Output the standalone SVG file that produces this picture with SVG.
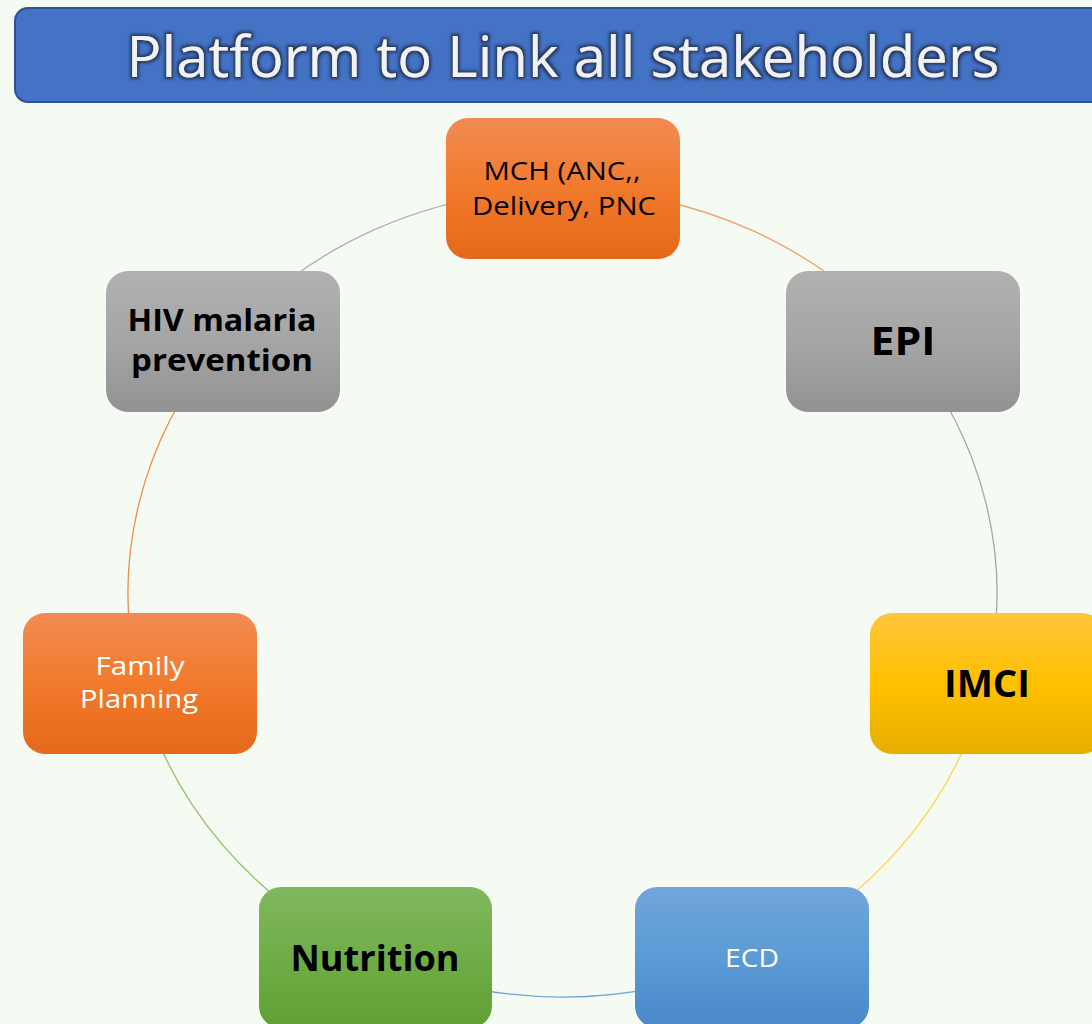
<svg xmlns="http://www.w3.org/2000/svg" width="1092" height="1024" viewBox="0 0 1092 1024">
<defs>
<linearGradient id="gOrange" x1="0" y1="0" x2="0" y2="1"><stop offset="0" stop-color="#F18B53"/><stop offset="0.5" stop-color="#F27A2C"/><stop offset="1" stop-color="#E4691A"/></linearGradient>
<linearGradient id="gGray" x1="0" y1="0" x2="0" y2="1"><stop offset="0" stop-color="#B1B1B1"/><stop offset="0.5" stop-color="#A5A5A5"/><stop offset="1" stop-color="#929292"/></linearGradient>
<linearGradient id="gGold" x1="0" y1="0" x2="0" y2="1"><stop offset="0" stop-color="#FFC53D"/><stop offset="0.5" stop-color="#FFC000"/><stop offset="1" stop-color="#E6AE00"/></linearGradient>
<linearGradient id="gBlue" x1="0" y1="0" x2="0" y2="1"><stop offset="0" stop-color="#71A5DC"/><stop offset="0.5" stop-color="#5B9BD5"/><stop offset="1" stop-color="#4A88CA"/></linearGradient>
<linearGradient id="gGreen" x1="0" y1="0" x2="0" y2="1"><stop offset="0" stop-color="#80B85E"/><stop offset="0.5" stop-color="#70AD47"/><stop offset="1" stop-color="#5FA032"/></linearGradient>
<filter id="tshadow" x="-5%" y="-30%" width="110%" height="160%">
<feMorphology in="SourceAlpha" operator="dilate" radius="1.5" result="d"/>
<feGaussianBlur in="d" stdDeviation="1.5" result="b"/>
<feFlood flood-color="#1F2F4F" flood-opacity="0.85"/>
<feComposite in2="b" operator="in" result="s"/>
<feMerge><feMergeNode in="s"/><feMergeNode in="SourceGraphic"/></feMerge>
</filter>
</defs>
<style>
.box{stroke:none}
.lbl{font-family:"Open Sans","Noto Sans","Liberation Sans",sans-serif;text-anchor:middle}
.dark{fill:#000}
.light{fill:#FFFFFF}
.b{font-weight:bold}
.arc{fill:none;stroke-width:1.3}
</style>
<rect x="0" y="0" width="1092" height="1024" fill="#F5FAF3"/>
<g id="title">
<rect x="15" y="8" width="1100" height="94" rx="13" ry="13" fill="#4472C4" stroke="#2F528F" stroke-width="2"/>
<text x="563" y="77" class="lbl" font-size="56" fill="#F2F2F2" filter="url(#tshadow)" textLength="873" lengthAdjust="spacingAndGlyphs">Platform to Link all stakeholders</text>
</g>
<g id="connectors">
<path class="arc" stroke="#F4A070" d="M562.5 190 A434.5 403.5 0 0 1 902.2 341.9"/>
<path class="arc" stroke="#A6A6A6" d="M902.2 341.9 A434.5 403.5 0 0 1 986.1 683.3"/>
<path class="arc" stroke="#FFD24D" d="M986.1 683.3 A434.5 403.5 0 0 1 751 957.1"/>
<path class="arc" stroke="#6FA3D8" d="M751 957.1 A434.5 403.5 0 0 1 374 957.1"/>
<path class="arc" stroke="#8DC26C" d="M374 957.1 A434.5 403.5 0 0 1 138.9 683.3"/>
<path class="arc" stroke="#F08A4B" d="M138.9 683.3 A434.5 403.5 0 0 1 222.8 341.9"/>
<path class="arc" stroke="#A9B2B2" d="M222.8 341.9 A434.5 403.5 0 0 1 562.5 190"/>
</g>
<g id="node-mch">
<rect class="box" x="446" y="118" width="234" height="141" rx="22" fill="url(#gOrange)"/>
<text class="lbl dark" x="562" y="180" font-size="25" textLength="157" lengthAdjust="spacingAndGlyphs">MCH (ANC,,</text>
<text class="lbl dark" x="564" y="215" font-size="25" textLength="184" lengthAdjust="spacingAndGlyphs">Delivery, PNC</text>
</g>
<g id="node-epi">
<rect class="box" x="786" y="271" width="234" height="141" rx="22" fill="url(#gGray)"/>
<text class="lbl dark b" x="903" y="355" font-size="40" textLength="65" lengthAdjust="spacingAndGlyphs">EPI</text>
</g>
<g id="node-imci">
<rect class="box" x="870" y="613" width="234" height="141" rx="22" fill="url(#gGold)"/>
<text class="lbl dark b" x="987" y="697" font-size="38" textLength="86" lengthAdjust="spacingAndGlyphs">IMCI</text>
</g>
<g id="node-ecd">
<rect class="box" x="635" y="887" width="234" height="141" rx="22" fill="url(#gBlue)"/>
<text class="lbl light" x="752" y="967" font-size="25" textLength="54" lengthAdjust="spacingAndGlyphs">ECD</text>
</g>
<g id="node-nutrition">
<rect class="box" x="259" y="887" width="233" height="141" rx="22" fill="url(#gGreen)"/>
<text class="lbl dark b" x="375" y="971" font-size="36" textLength="169" lengthAdjust="spacingAndGlyphs">Nutrition</text>
</g>
<g id="node-fp">
<rect class="box" x="23" y="613" width="234" height="141" rx="22" fill="url(#gOrange)"/>
<text class="lbl light" x="140" y="675" font-size="25" textLength="89" lengthAdjust="spacingAndGlyphs">Family</text>
<text class="lbl light" x="139" y="708" font-size="25" textLength="118" lengthAdjust="spacingAndGlyphs">Planning</text>
</g>
<g id="node-hiv">
<rect class="box" x="106" y="271" width="234" height="141" rx="22" fill="url(#gGray)"/>
<text class="lbl dark b" x="222" y="331" font-size="30" textLength="189" lengthAdjust="spacingAndGlyphs">HIV malaria</text>
<text class="lbl dark b" x="222" y="371" font-size="30" textLength="182" lengthAdjust="spacingAndGlyphs">prevention</text>
</g>
</svg>
